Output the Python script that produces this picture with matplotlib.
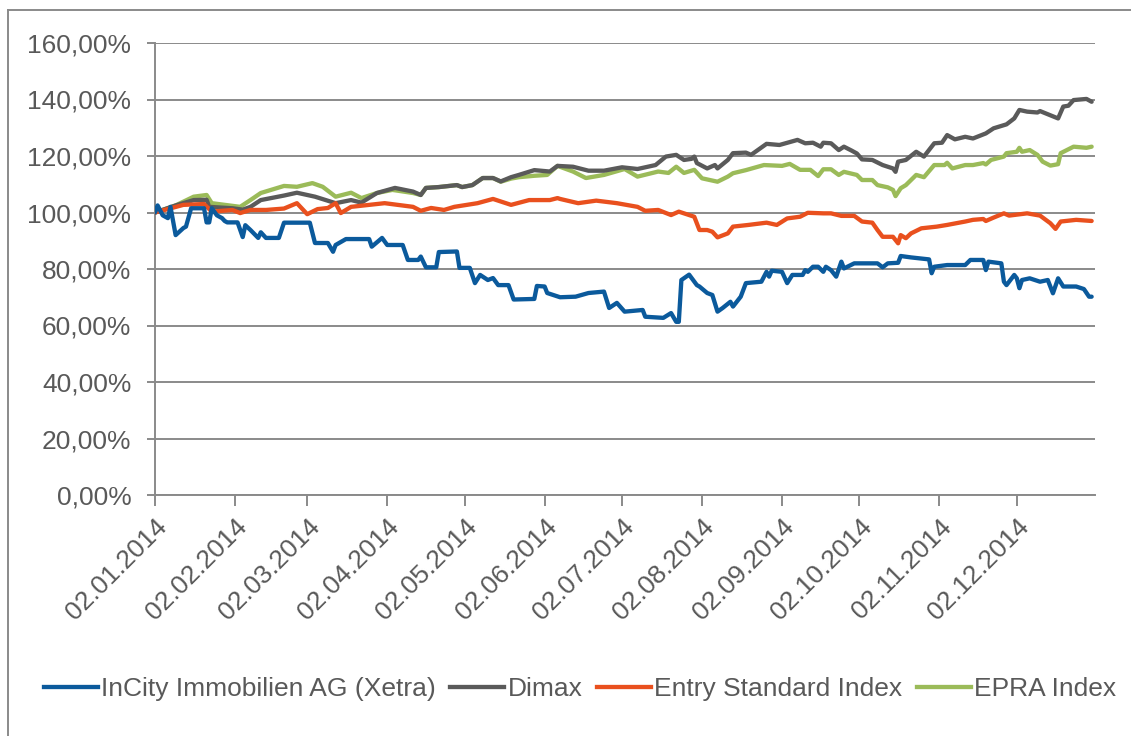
import matplotlib
matplotlib.use("Agg")
import matplotlib.pyplot as plt
import matplotlib.dates as mdates
import matplotlib.ticker as mticker
from matplotlib.lines import Line2D
import pandas as pd

# ---------------- data (days since 02.01.2014, value in %) ----------------
incity_day = [0, 1, 3, 5, 6, 8, 11, 12, 14, 19, 20, 21, 22, 24, 26, 27, 28, 32, 34, 35,
              37, 40, 41, 43, 48, 50, 60, 62, 67, 69, 70, 74, 83, 84, 88, 90, 96, 98, 102, 103,
              105, 109, 110, 117, 118, 122, 124, 126, 129, 131, 133, 137, 139, 147, 148, 151, 152, 157, 163, 168,
              174, 176, 179, 182, 189, 190, 197, 200, 202, 203, 204, 207, 210, 211, 214, 216, 218, 220, 223, 224,
              227, 229, 235, 237, 238, 239, 243, 245, 247, 251, 252, 253, 255, 257, 259, 260, 262, 264, 266, 267,
              271, 280, 282, 284, 288, 289, 293, 300, 301, 302, 307, 314, 316, 321, 322, 323, 328, 329, 330, 333,
              334, 335, 336, 339, 343, 346, 348, 350, 352, 357, 360, 362, 363]
incity_val = [100, 102.5, 99, 98, 102, 92, 94.5, 95, 101.5, 101.5, 96.5, 96.5, 101.5, 99, 98, 97, 96.5, 96.5, 91.3, 95.5,
              93.8, 91, 93, 91, 91, 96.4, 96.4, 89.2, 89.2, 86.1, 88.5, 90.6, 90.6, 87.9, 91, 88.5, 88.5, 83.2, 83.2, 84.4,
              80.6, 80.6, 86, 86.2, 80.4, 80.4, 75, 77.9, 76.1, 76.8, 74.3, 74.3, 69.2, 69.4, 74, 73.8, 71.5, 70, 70.2, 71.5,
              72, 66.2, 68, 64.9, 65.5, 63.1, 62.7, 64.4, 61.3, 61.3, 76.1, 78, 74.3, 73.8, 71.5, 70.8, 64.9, 66.2, 68.4, 66.7,
              70.2, 75, 75.5, 79, 77.3, 79.4, 79, 75, 77.9, 77.9, 79.6, 79, 80.8, 80.8, 79, 80.8, 79.6, 77.3, 82.6, 80.2,
              82, 82, 80.6, 82, 82.2, 84.6, 84.1, 83.4, 78.5, 80.8, 81.4, 81.4, 83.2, 83.2, 79.6, 82.6, 82, 75.5, 74.3, 77.9,
              76.7, 73.2, 76.1, 76.7, 75.5, 76.1, 71.4, 76.7, 73.8, 73.8, 72.9, 70.2, 70.2]

dimax_day = [0, 8, 15, 20, 21, 30, 34, 37, 41, 50, 55, 62, 70, 76, 80, 86, 93, 100, 103, 105,
             110, 117, 119, 123, 127, 131, 134, 138, 141, 147, 153, 156, 162, 168, 174, 181, 187, 194, 198, 202,
             205, 208, 209, 210, 214, 217, 218, 222, 224, 229, 231, 237, 242, 249, 252, 255, 258, 259, 262, 265,
             267, 270, 272, 274, 278, 282, 286, 287, 288, 291, 295, 298, 302, 305, 307, 310, 314, 317, 322, 325,
             330, 333, 335, 338, 342, 343, 350, 352, 354, 356, 361, 363]
dimax_val = [100, 102.5, 104.4, 104.5, 102, 101.5, 101, 102, 104.4, 106, 107, 105.6, 103.3, 104.4, 103.5, 106.9, 108.7, 107.4, 106.2, 108.7,
             109, 109.7, 109, 109.7, 112.2, 112.2, 111, 112.5, 113.3, 115, 114.5, 116.5, 116.2, 114.8, 114.8, 116, 115.4, 116.8, 119.8, 120.4,
             118.6, 119, 119.8, 117.5, 115.6, 116.8, 115.6, 118.6, 121, 121.2, 120.4, 124.3, 123.9, 125.7, 124.5, 124.7, 123.3, 124.7, 124.5, 122.1,
             123.3, 121.9, 120.9, 118.8, 118.6, 116.8, 115.6, 114.4, 118, 118.6, 121.5, 119.8, 124.5, 124.7, 127.4, 125.9, 126.8, 126.2, 128, 129.8,
             131.2, 133.3, 136.3, 135.7, 135.4, 135.9, 133.3, 137.5, 137.8, 139.8, 140.2, 139.2]

entry_day = [0, 11, 19, 22, 30, 33, 37, 43, 50, 55, 59, 63, 67, 70, 72, 76, 89, 100, 103, 107,
             112, 116, 125, 131, 138, 145, 153, 156, 157, 164, 171, 179, 187, 190, 195, 200, 203, 207, 209, 211,
             214, 216, 218, 222, 224, 230, 237, 241, 245, 250, 253, 259, 262, 266, 271, 274, 278, 280, 282, 286,
             288, 289, 291, 293, 297, 303, 307, 314, 317, 321, 322, 325, 329, 331, 338, 343, 347, 349, 351, 357,
             363]
entry_val = [100, 102.7, 103, 100.3, 100.9, 99.8, 100.9, 100.9, 101.4, 103.3, 99.4, 101.2, 101.6, 103.3, 99.8, 102, 103.3, 102, 100.6, 101.6,
             100.9, 102, 103.3, 104.8, 102.7, 104.4, 104.4, 105.1, 104.8, 103.3, 104.2, 103.3, 102, 100.6, 100.9, 99.1, 100.3, 99.1, 98.5, 93.8,
             93.8, 93.2, 91.2, 92.6, 95, 95.6, 96.4, 95.6, 97.9, 98.5, 99.9, 99.7, 99.7, 98.8, 98.8, 96.8, 96.4, 93.8, 91.4, 91.4,
             89.1, 92, 90.9, 92.6, 94.4, 95, 95.6, 96.8, 97.4, 97.7, 97, 98.2, 99.7, 98.9, 99.7, 98.9, 96.2, 94.2, 96.8, 97.4,
             97]

epra_day = [0, 8, 15, 20, 22, 33, 37, 41, 50, 55, 61, 65, 70, 76, 80, 86, 92, 100, 103, 105,
            110, 117, 119, 123, 127, 131, 134, 138, 141, 147, 152, 156, 162, 167, 174, 182, 187, 195, 199, 202,
            205, 209, 212, 218, 222, 224, 229, 236, 243, 246, 250, 254, 257, 259, 262, 265, 267, 272, 274, 278,
            280, 284, 286, 287, 289, 291, 295, 298, 302, 306, 307, 309, 314, 317, 321, 322, 324, 329, 330, 334,
            335, 336, 339, 342, 344, 347, 350, 351, 356, 361, 363]
epra_val = [100, 102.5, 105.6, 106.2, 103.3, 102, 104.4, 106.9, 109.4, 109.1, 110.4, 109.1, 105.6, 107, 105.1, 106.9, 108, 106.9, 106.2, 108.7,
            109, 109.7, 109, 109.7, 112.2, 112.2, 110.9, 112, 112.5, 113, 113.3, 116.5, 114.5, 112.2, 113.3, 115.4, 112.7, 114.5, 114, 116.2,
            114, 115.1, 112.1, 110.9, 112.7, 113.9, 115, 116.8, 116.5, 117.2, 115.1, 115.1, 112.9, 115.3, 115.3, 113.3, 114.4, 113.3, 111.5, 111.5,
            109.7, 108.9, 108, 105.8, 108.6, 109.7, 113.3, 112.5, 116.8, 116.8, 117.6, 115.6, 116.8, 116.8, 117.5, 117, 118.6, 119.8, 121, 121.5,
            122.9, 121.5, 122.1, 120.4, 118, 116.6, 117.1, 121, 123.3, 122.9, 123.3]

series_names = ["InCity Immobilien AG (Xetra)", "Dimax", "Entry Standard Index", "EPRA Index"]
series_colors = ["#0b5a9c", "#5a5a5a", "#e9501e", "#9bbb59"]
tick_dates = ["2014-01-02", "2014-02-02", "2014-03-02", "2014-04-02", "2014-05-02", "2014-06-02",
              "2014-07-02", "2014-08-02", "2014-09-02", "2014-10-02", "2014-11-02", "2014-12-02"]
y_ticks = [0, 20, 40, 60, 80, 100, 120, 140, 160]

# ---------------- plotting ----------------
plt.rcParams['font.family'] = ['Liberation Sans', 'DejaVu Sans']
FS = 19
TXT = "#595959"
GRID = "#8a8a8a"

W, H = 1131, 736
fig = plt.figure(figsize=(W / 100, H / 100), dpi=100)
ax = fig.add_axes([155 / W, 1 - 495 / H, (1095 - 155) / W, (495 - 43) / H])

base = pd.Timestamp("2014-01-02")
def to_dates(days):
    return base + pd.to_timedelta(days, unit="D")

data = [(incity_day, incity_val), (dimax_day, dimax_val), (entry_day, entry_val), (epra_day, epra_val)]
for i in [3, 1, 2, 0]:
    d, v = data[i]
    ax.plot(to_dates(d), v, color=series_colors[i], lw=3.1, solid_joinstyle="round",
            solid_capstyle="round", zorder=3 + (1 if i == 0 else 0))

ax.set_xlim(base, base + pd.Timedelta(days=364.3))
ax.set_ylim(0, 160)
ax.set_yticks(y_ticks)
ax.yaxis.set_major_formatter(mticker.FuncFormatter(lambda v, p: f"{v:.2f}".replace(".", ",") + "%"))
ax.set_xticks(pd.to_datetime(tick_dates))
ax.xaxis.set_major_formatter(mdates.DateFormatter("%d.%m.%Y"))

ax.grid(axis="y", color=GRID, lw=1.4, zorder=1)
ax.set_axisbelow(True)
for s in ["top", "right"]:
    ax.spines[s].set_visible(False)
for s in ["left", "bottom"]:
    ax.spines[s].set_color(GRID)
    ax.spines[s].set_linewidth(1.4)
    ax.spines[s].set_zorder(2)

ax.tick_params(axis="y", direction="out", length=6, width=1.4, color=GRID,
               labelsize=FS, labelcolor=TXT, pad=11)
ax.tick_params(axis="x", direction="out", length=8, width=1.4, color=GRID,
               labelsize=FS, labelcolor=TXT, pad=6)
for lab in ax.get_xticklabels():
    lab.set_rotation(45)
    lab.set_ha("right")
    lab.set_va("top")
    lab.set_rotation_mode("anchor")

handles = [Line2D([0], [0], color=c, lw=3.1) for c in series_colors]
fig.legend(handles, series_names, loc="center", bbox_to_anchor=(580 / W, 1 - 689 / H),
           ncol=4, frameon=False, fontsize=FS, labelcolor=TXT, handlelength=2.05,
           handletextpad=0.12, columnspacing=0.55, borderaxespad=0)

# chart-area frame
fig.add_artist(Line2D([8 / W, 8 / W], [0, 1 - 10 / H], color=GRID, lw=1.4, transform=fig.transFigure))
fig.add_artist(Line2D([8 / W, 1], [1 - 10 / H, 1 - 10 / H], color=GRID, lw=1.4, transform=fig.transFigure))

fig.savefig("out.png", dpi=100)
